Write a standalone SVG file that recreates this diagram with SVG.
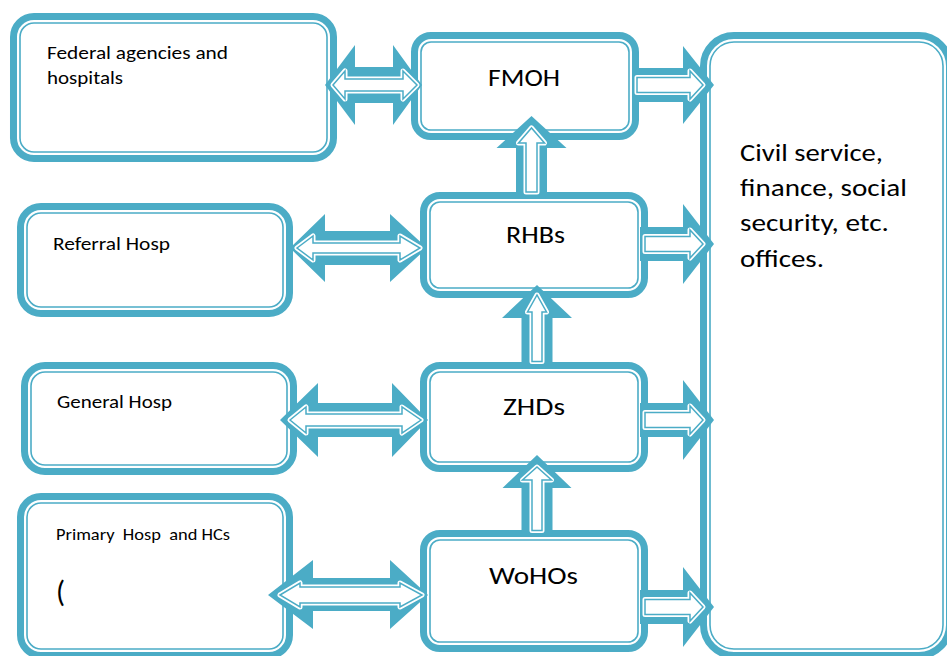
<svg xmlns="http://www.w3.org/2000/svg" xmlns:xlink="http://www.w3.org/1999/xlink" width="947" height="656" viewBox="0 0 947 656">
  <style>
    .band { fill: #ffffff; stroke: #4BACC6; stroke-width: 7; }
    .line { fill: none; stroke: #4BACC6; stroke-width: 1.6; }
    .arr { fill: #4BACC6; }
    .halo { fill: #ffffff; stroke: #ffffff; stroke-width: 5; stroke-linejoin: round; }
    .core { fill: #ffffff; stroke: #4BACC6; stroke-width: 1.5; stroke-linejoin: miter; }
    text { font-family: Calibri, Carlito, Lato, "Liberation Sans", sans-serif; fill: #000000; }
    .sm { font-size: 18px; }
    .xs { font-size: 16px; }
    .lg { font-size: 24px; }
    .paren { font-size: 30px; }
  </style>
  <defs>
    <!-- inner outlines of the block arrows -->
    <polygon id="in-d1" points="333,85 345,71 345,79 403,79 403,71 417,85 403,99 403,91 345,91 345,99"/>
    <polygon id="in-d2" points="297,248 313,236 313,243 400,243 400,236 420,248 400,260 400,253 313,253 313,260"/>
    <polygon id="in-d3" points="290,420 306,407 306,414 402,414 402,407 421,420 402,433 402,426 306,426 306,433"/>
    <polygon id="in-d4" points="280,595 300,583 300,587 400,587 400,583 422,595 400,607 400,603 300,603 300,607"/>
    <polygon id="in-u1" points="526,192 526,143 518.5,143 531.5,128 544.5,143 537,143 537,192"/>
    <polygon id="in-u2" points="532,361.5 532,312 527.5,312 537,295 546.5,312 542,312 542,361.5"/>
    <polygon id="in-u3" points="532,530.5 532,480 522.5,480 537,467 551.5,480 542,480 542,530.5"/>
    <polygon id="in-r1" points="637,77.5 690,77.5 690,71 703,85 690,99 690,92.5 637,92.5"/>
    <polygon id="in-r2" points="645,236.5 690,236.5 690,230 703,244 690,258 690,251.5 645,251.5"/>
    <polygon id="in-r3" points="645,412.5 690,412.5 690,406 703,420 690,434 690,427.5 645,427.5"/>
    <polygon id="in-r4" points="645,599.5 690,599.5 690,593 703,607 690,621 690,614.5 645,614.5"/>
  </defs>

  <!-- left column -->
  <g id="federal">
    <rect class="band" x="13.5" y="16.5" width="320" height="142" rx="20.5"/>
    <rect class="line" x="20" y="23" width="307" height="129" rx="14"/>
    <text class="sm" x="47" y="59" textLength="181" lengthAdjust="spacingAndGlyphs">Federal agencies and</text>
    <text class="sm" x="47" y="84" textLength="76" lengthAdjust="spacingAndGlyphs">hospitals</text>
  </g>
  <g id="referral">
    <rect class="band" x="20.5" y="206.5" width="269" height="107" rx="20.5"/>
    <rect class="line" x="27" y="213" width="256" height="94" rx="14"/>
    <text class="sm" x="53" y="250" textLength="117" lengthAdjust="spacingAndGlyphs">Referral Hosp</text>
  </g>
  <g id="general">
    <rect class="band" x="24.5" y="365.5" width="269" height="106" rx="20.5"/>
    <rect class="line" x="31" y="372" width="256" height="93" rx="14"/>
    <text class="sm" x="57" y="408" textLength="115" lengthAdjust="spacingAndGlyphs">General Hosp</text>
  </g>
  <g id="primary">
    <rect class="band" x="20.5" y="496.5" width="269" height="159" rx="20.5"/>
    <rect class="line" x="27" y="503" width="256" height="146" rx="14"/>
    <text class="xs" x="56" y="540" xml:space="preserve" textLength="174" lengthAdjust="spacingAndGlyphs">Primary  Hosp  and HCs</text>
    <text class="paren" x="56" y="602">(</text>
  </g>

  <!-- middle column -->
  <g id="fmoh">
    <rect class="band" x="414.5" y="35.5" width="221" height="101" rx="16.5"/>
    <rect class="line" x="421" y="42" width="208" height="88" rx="10"/>
    <text class="lg" x="488" y="86" textLength="72" lengthAdjust="spacingAndGlyphs">FMOH</text>
  </g>
  <g id="rhbs">
    <rect class="band" x="423.5" y="195.5" width="221" height="99" rx="16.5"/>
    <rect class="line" x="430" y="202" width="208" height="86" rx="10"/>
    <text class="lg" x="506" y="243" textLength="59" lengthAdjust="spacingAndGlyphs">RHBs</text>
  </g>
  <g id="zhds">
    <rect class="band" x="423.5" y="365.5" width="221" height="103" rx="16.5"/>
    <rect class="line" x="430" y="372" width="208" height="90" rx="10"/>
    <text class="lg" x="503" y="415" textLength="62" lengthAdjust="spacingAndGlyphs">ZHDs</text>
  </g>
  <g id="wohos">
    <rect class="band" x="423.5" y="533.5" width="221" height="115" rx="16.5"/>
    <rect class="line" x="430" y="540" width="208" height="102" rx="10"/>
    <text class="lg" x="489" y="584" textLength="89" lengthAdjust="spacingAndGlyphs">WoHOs</text>
  </g>

  <!-- right column -->
  <g id="offices">
    <rect class="band" x="703.5" y="35.5" width="246" height="620" rx="30.5"/>
    <rect class="line" x="710" y="42" width="233" height="607" rx="24"/>
    <text class="lg" x="740" y="161" textLength="143" lengthAdjust="spacingAndGlyphs">Civil service,</text>
    <text class="lg" x="740" y="196" textLength="167" lengthAdjust="spacingAndGlyphs">finance, social</text>
    <text class="lg" x="740" y="231" textLength="149" lengthAdjust="spacingAndGlyphs">security, etc.</text>
    <text class="lg" x="740" y="267" textLength="84" lengthAdjust="spacingAndGlyphs">offices.</text>
  </g>

  <!-- block arrows -->
  <g id="connectors">
    <!-- two-way arrows between left boxes and middle boxes -->
    <polygon class="arr" points="325,85 355,45 355,67 393,67 393,45 422,85 393,125 393,103 355,103 355,125"/>
    <use xlink:href="#in-d1" class="halo"/><use xlink:href="#in-d1" class="core"/>
    <polygon class="arr" points="290,248 325,214 325,231 390,231 390,214 427,248 390,282 390,265 325,265 325,282"/>
    <use xlink:href="#in-d2" class="halo"/><use xlink:href="#in-d2" class="core"/>
    <polygon class="arr" points="280,420 318,383 318,403 392,403 392,383 428,420 392,457 392,437 318,437 318,457"/>
    <use xlink:href="#in-d3" class="halo"/><use xlink:href="#in-d3" class="core"/>
    <polygon class="arr" points="268,595 313,560 313,578 390,578 390,560 428,595 390,629 390,611 313,611 313,629"/>
    <use xlink:href="#in-d4" class="halo"/><use xlink:href="#in-d4" class="core"/>

    <!-- upward arrows along the middle column -->
    <polygon class="arr" points="516,196 516,148 496.5,148 531.5,116 566.5,148 547,148 547,196"/>
    <use xlink:href="#in-u1" class="halo"/><use xlink:href="#in-u1" class="core"/>
    <polygon class="arr" points="521.5,365 521.5,318 502,318 537,285 572,318 552.5,318 552.5,365"/>
    <use xlink:href="#in-u2" class="halo"/><use xlink:href="#in-u2" class="core"/>
    <polygon class="arr" points="521.5,534 521.5,488 502.5,488 537,455 571.5,488 552.5,488 552.5,534"/>
    <use xlink:href="#in-u3" class="halo"/><use xlink:href="#in-u3" class="core"/>

    <!-- arrows into the offices box -->
    <polygon class="arr" points="636,68 683,68 683,46 714,85 683,124 683,102 636,102"/>
    <use xlink:href="#in-r1" class="halo"/><use xlink:href="#in-r1" class="core"/>
    <polygon class="arr" points="640,227 683,227 683,204 714,244 683,284 683,261 640,261"/>
    <use xlink:href="#in-r2" class="halo"/><use xlink:href="#in-r2" class="core"/>
    <polygon class="arr" points="640,403 683,403 683,380 714,420 683,460 683,437 640,437"/>
    <use xlink:href="#in-r3" class="halo"/><use xlink:href="#in-r3" class="core"/>
    <polygon class="arr" points="640,590 683,590 683,567 714,607 683,647 683,624 640,624"/>
    <use xlink:href="#in-r4" class="halo"/><use xlink:href="#in-r4" class="core"/>
  </g>
</svg>
